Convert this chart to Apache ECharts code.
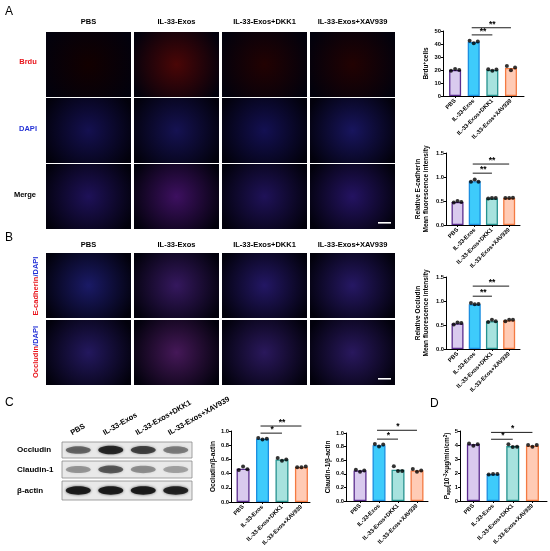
<!DOCTYPE html>
<html>
<head>
<meta charset="utf-8">
<script src="https://cdn.jsdelivr.net/npm/echarts@6/dist/echarts.min.js"></script>
<style>
html,body{margin:0;padding:0;background:#fff}
#main{width:550px;height:551px}
</style>
</head>
<body>
<div id="main"></div>
<script>
// groups (same for every panel)
var groups = ['PBS', 'IL-33-Exos', 'IL-33-Exos+DKK1', 'IL-33-Exos+XAV939'];

// A - Brdu+ cells
var brduMean = [20, 41.5, 20, 21.5];
var brduPts = [[19.5, 20.8, 20], [42.5, 40.5, 42], [20.6, 19.5, 20.3], [23, 19.8, 22]];
var brduSig = [[2, 3, 47, '**'], [2, 4, 52.5, '**']];
// A - E-cadherin MFI
var ecadMean = [0.48, 0.91, 0.55, 0.56];
var ecadPts = [[0.47, 0.5, 0.48], [0.9, 0.95, 0.9], [0.55, 0.56, 0.56], [0.56, 0.56, 0.57]];
var ecadSig = [[2, 3, 1.08, '**'], [2, 4, 1.27, '**']];
// B - Occludin MFI
var occbMean = [0.53, 0.93, 0.58, 0.6];
var occbPts = [[0.51, 0.55, 0.54], [0.96, 0.93, 0.94], [0.56, 0.61, 0.58], [0.58, 0.61, 0.61]];
var occbSig = [[2, 3, 1.1, '**'], [2, 4, 1.31, '**']];
// C - Occludin/beta-actin
var occcMean = [0.47, 0.89, 0.6, 0.49];
var occcPts = [[0.45, 0.5, 0.46], [0.9, 0.88, 0.89], [0.62, 0.58, 0.6], [0.49, 0.49, 0.5]];
var occcSig = [[2, 3, 0.97, '*'], [2, 4, 1.07, '**']];
// C - Claudin-1/beta-actin
var claudMean = [0.45, 0.82, 0.46, 0.45];
var claudPts = [[0.46, 0.43, 0.45], [0.84, 0.8, 0.83], [0.51, 0.44, 0.44], [0.47, 0.43, 0.45]];
var claudSig = [[2, 3, 0.91, '*'], [2, 4, 1.04, '*']];
// D - Papp
var pappMean = [4.05, 1.92, 3.92, 3.95];
var pappPts = [[4.1, 3.95, 4.05], [1.9, 1.93, 1.93], [4.05, 3.85, 3.88], [4.0, 3.88, 4.0]];
var pappSig = [[2, 3, 4.41, '*'], [2, 4, 4.9, '*']];

// western blot band strength (0-1), lanes in group order
var bandNames = ['Occludin', 'Claudin-1', 'β-actin'];
var bandOcc = [0.55, 0.85, 0.7, 0.45];
var bandClaud = [0.35, 0.6, 0.38, 0.3];
var bandActin = [0.92, 0.92, 0.92, 0.88];

var fills = ['#d9caee', '#3ecbfb', '#a7e2de', '#ffcbb5'];
var borders = ['#5a2c8e', '#1b8ee0', '#26928f', '#f47a42'];
var FONT = 'Liberation Sans, Arial, sans-serif';

var myChart = echarts.init(document.getElementById('main'));

// chart layouts
var panels = [
    {mean: brduMean, pts: brduPts, sig: brduSig, left: 443, top: 31, width: 81, height: 65, xmin: 0.35, xmax: 4.7, ymax: 50, step: 10, dec: 0, bw: 12,
        name: '{a|Brdu}{s|+}{a|cells}', gap: 12},
    {mean: ecadMean, pts: ecadPts, sig: ecadSig, left: 446, top: 153, width: 74, height: 72, xmin: 0.33, xmax: 4.63, ymax: 1.5, step: 0.5, dec: 1, bw: 12,
        name: '{a|Relative E-cadherin}\n{a|Mean fluorescence intensity}', gap: 16},
    {mean: occbMean, pts: occbPts, sig: occbSig, left: 446, top: 277, width: 74, height: 72, xmin: 0.33, xmax: 4.63, ymax: 1.5, step: 0.5, dec: 1, bw: 12,
        name: '{a|Relative Occludin}\n{a|Mean fluorescence intensity}', gap: 16},
    {mean: occcMean, pts: occcPts, sig: occcSig, left: 231, top: 431, width: 79, height: 71, xmin: 0.38, xmax: 4.44, ymax: 1, step: 0.2, dec: 1, bw: 13,
        name: '{a|Occludin/β-actin}', gap: 14},
    {mean: claudMean, pts: claudPts, sig: claudSig, left: 346, top: 433, width: 82, height: 68, xmin: 0.26, xmax: 4.58, ymax: 1, step: 0.2, dec: 1, bw: 13,
        name: '{a|Claudin-1/β-actin}', gap: 14},
    {mean: pappMean, pts: pappPts, sig: pappSig, left: 460, top: 431, width: 87, height: 70, xmin: 0.32, xmax: 4.74, ymax: 5, step: 1, dec: 0, bw: 13,
        name: '{a|P}{b|app}{a|(10}{s|-3}{a|×μg/min/cm}{s|2}{a|)}', gap: 8}
];

var grids = [], xAxes = [], yAxes = [], series = [];
var offs = [-0.22, 0, 0.22];

panels.forEach(function (p, gi) {
    grids.push({left: p.left, top: p.top, width: p.width, height: p.height});
    xAxes.push({
        type: 'value', gridIndex: gi, min: p.xmin, max: p.xmax,
        splitLine: {show: false},
        axisLine: {onZero: false, lineStyle: {color: '#000', width: 1}},
        axisTick: {show: true, customValues: [1, 2, 3, 4], length: 2, lineStyle: {color: '#000'}},
        axisLabel: {
            customValues: [1, 2, 3, 4], rotate: 45, margin: 4,
            fontSize: 5.8, fontWeight: 'bold', fontFamily: FONT, color: '#000',
            formatter: function (v) { return groups[Math.round(v) - 1]; }
        }
    });
    yAxes.push({
        type: 'value', gridIndex: gi, min: 0, max: p.ymax, interval: p.step,
        splitLine: {show: false},
        axisLine: {show: true, lineStyle: {color: '#000', width: 1}},
        axisTick: {show: true, length: 2, lineStyle: {color: '#000'}},
        axisLabel: {
            margin: 2, fontSize: 5.8, fontWeight: 'bold', fontFamily: FONT, color: '#000',
            formatter: function (v) { return v.toFixed(p.dec); }
        },
        name: p.name, nameLocation: 'middle', nameGap: p.gap, nameRotate: 90,
        nameTextStyle: {
            lineHeight: 8,
            rich: {
                a: {fontSize: 6.5, fontWeight: 'bold', fontFamily: FONT, color: '#000', lineHeight: 8},
                b: {fontSize: 4.5, fontWeight: 'bold', fontFamily: FONT, color: '#000', verticalAlign: 'bottom', lineHeight: 8},
                s: {fontSize: 4.5, fontWeight: 'bold', fontFamily: FONT, color: '#000', verticalAlign: 'top', lineHeight: 8}
            }
        }
    });
    series.push({
        type: 'bar', xAxisIndex: gi, yAxisIndex: gi, barWidth: p.bw,
        data: p.mean.map(function (v, i) {
            return {value: [i + 1, v], itemStyle: {color: fills[i], borderColor: borders[i], borderWidth: 1.3}};
        }),
        silent: true
    });
    var sd = [];
    p.pts.forEach(function (arr, i) {
        arr.forEach(function (v, k) { sd.push([i + 1 + offs[k], v]); });
    });
    series.push({
        type: 'scatter', xAxisIndex: gi, yAxisIndex: gi, symbolSize: 4,
        itemStyle: {color: '#000'}, data: sd, silent: true, z: 4
    });
    series.push({
        type: 'custom', xAxisIndex: gi, yAxisIndex: gi, clip: false, silent: true, z: 5,
        data: p.sig.map(function (s) { return [s[0], s[1], s[2]]; }),
        renderItem: function (params, api) {
            var a = api.coord([api.value(0), api.value(2)]);
            var b = api.coord([api.value(1), api.value(2)]);
            return {
                type: 'group',
                children: [
                    {type: 'line', shape: {x1: a[0] - 2, y1: a[1], x2: b[0], y2: b[1]}, style: {stroke: '#000', lineWidth: 0.9}},
                    {type: 'text', style: {
                        text: p.sig[params.dataIndex][3], x: (a[0] + b[0]) / 2, y: a[1] + 1,
                        textAlign: 'center', textVerticalAlign: 'bottom',
                        font: 'bold 8.5px ' + FONT, fill: '#000'
                    }}
                ]
            };
        }
    });
});

// microscopy panel frames
var colX = [46, 134, 222, 310];
var colW = 85;
var rowsA = [32, 98, 164];
var rowsB = [253, 320];
var rowH = 65;
var tintA = [
    ['#120000', '#4a0606', '#220202', '#220202'],
    ['#141050', '#151252', '#131052', '#18155e'],
    ['#1e1158', '#3d1060', '#1f1258', '#241362']
];
var tintB = [
    ['#1a1a66', '#35185e', '#231764', '#261864'],
    ['#23185e', '#451858', '#2a185c', '#29185e']
];
var graphics = [];

function imgRect(x, y, c) {
    graphics.push({
        type: 'rect', shape: {x: x, y: y, width: colW, height: rowH}, silent: true,
        style: {fill: new echarts.graphic.RadialGradient(0.5, 0.5, 0.75, [
            {offset: 0, color: c}, {offset: 1, color: '#02010c'}])}
    });
}
rowsA.forEach(function (y, r) { colX.forEach(function (x, c) { imgRect(x, y, tintA[r][c]); }); });
rowsB.forEach(function (y, r) { colX.forEach(function (x, c) { imgRect(x, y, tintB[r][c]); }); });

// scale bars
[rowsA[2], rowsB[1]].forEach(function (y) {
    graphics.push({type: 'rect', shape: {x: colX[3] + colW - 17, y: y + rowH - 7, width: 13, height: 1.6}, style: {fill: '#fff'}, silent: true});
});

function txt(t, x, y, opt) {
    var o = {type: 'text', x: x, y: y, silent: true, style: {
        text: t, font: (opt && opt.font) || ('bold 7.5px ' + FONT), fill: (opt && opt.fill) || '#000',
        textAlign: (opt && opt.align) || 'center', textVerticalAlign: (opt && opt.va) || 'middle'
    }};
    if (opt && opt.rotation) o.rotation = opt.rotation;
    if (opt && opt.rich) o.style.rich = opt.rich;
    graphics.push(o);
}

// column headers
colX.forEach(function (x, c) {
    txt(groups[c], x + colW / 2, 22);
    txt(groups[c], x + colW / 2, 245);
});
// row labels
txt('Brdu', 28, 62, {fill: '#e8141b'});
txt('DAPI', 28, 129, {fill: '#2432d6'});
txt('Merge', 25, 195);
var richLab = {
    r: {fontSize: 7.5, fontWeight: 'bold', fontFamily: FONT, fill: '#e8141b', color: '#e8141b'},
    bl: {fontSize: 7.5, fontWeight: 'bold', fontFamily: FONT, fill: '#2432d6', color: '#2432d6'}
};
txt('{r|E-cadherin}{bl|/DAPI}', 36, 286, {rotation: Math.PI / 2, rich: richLab});
txt('{r|Occludin}{bl|/DAPI}', 36, 352, {rotation: Math.PI / 2, rich: richLab});

// panel letters
txt('A', 5, 12, {font: '12px ' + FONT, align: 'left'});
txt('B', 5, 238, {font: '12px ' + FONT, align: 'left'});
txt('C', 5, 403, {font: '12px ' + FONT, align: 'left'});
txt('D', 430, 404, {font: '12px ' + FONT, align: 'left'});

// western blot
var wbX = 62, wbW = 130;
var wbRows = [[442, 16], [461, 17], [481, 19]];
var bandSets = [bandOcc, bandClaud, bandActin];
wbRows.forEach(function (rw, r) {
    graphics.push({type: 'rect', shape: {x: wbX, y: rw[0], width: wbW, height: rw[1]}, silent: true,
        style: {fill: '#e9e9e9', stroke: '#8a8a8a', lineWidth: 0.8}});
    bandSets[r].forEach(function (s, i) {
        var cx = wbX + wbW / 4 * (i + 0.5);
        graphics.push({type: 'ellipse', silent: true,
            shape: {cx: cx, cy: rw[0] + rw[1] / 2, rx: 12.5, ry: r === 2 ? 4.2 : 3.2 + s * 1.2},
            style: {fill: 'rgba(20,20,20,' + s + ')', shadowBlur: 3, shadowColor: 'rgba(20,20,20,' + s * 0.8 + ')'}});
    });
    txt(bandNames[r], 17, rw[0] + rw[1] / 2, {align: 'left', font: 'bold 8px ' + FONT});
});
groups.forEach(function (g, i) {
    txt(g, wbX + wbW / 4 * (i + 0.5) - 5, 437, {align: 'left', va: 'bottom', rotation: Math.PI / 6, font: 'bold 7.5px ' + FONT});
});

var option = {
    animation: false,
    backgroundColor: '#fff',
    grid: grids,
    xAxis: xAxes,
    yAxis: yAxes,
    series: series,
    graphic: {elements: graphics}
};
myChart.setOption(option);
</script>
</body>
</html>
